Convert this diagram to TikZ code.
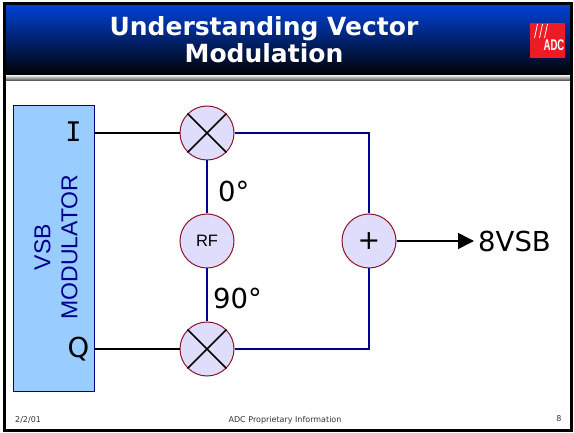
\documentclass[tikz,border=0pt]{standalone}
\usepackage{fontspec}
\setmainfont{DejaVu Sans}
\newfontfamily\arialfont{Liberation Sans}
\newfontfamily\monofont{DejaVu Sans Mono}
\usetikzlibrary{arrows.meta}
\definecolor{headblue}{RGB}{0,66,214}
\definecolor{boxblue}{RGB}{153,204,255}
\definecolor{wireblue}{RGB}{0,0,140}
\definecolor{mixfill}{RGB}{222,222,252}
\definecolor{mixring}{RGB}{140,20,40}
\definecolor{logored}{RGB}{237,28,36}
\tikzset{
	mixer/.style={circle,draw=mixring,fill=mixfill,line width=1pt,minimum size=54pt,inner sep=0pt},
	wire/.style={black,line width=1.5pt},
	bluewire/.style={wireblue,line width=1.5pt},
	crossline/.style={black,line width=1.5pt},
	biglabel/.style={font=\fontsize{27.5}{28}\selectfont,inner sep=0pt},
	footer/.style={font=\fontsize{8}{9}\selectfont,text=black!80,inner sep=0pt},
}
\begin{document}
\begin{tikzpicture}[x=1pt,y=-1pt]
	\useasboundingbox (0,0) rectangle (574,433);
	\fill[white] (0,0) rectangle (574,433);
	% header
	\shade[top color=headblue,bottom color=black,shading angle=0] (4,5) rectangle (571,76);
	\shade[top color=black!15,bottom color=black!75] (4,76) rectangle (571,81);
	\draw[black,line width=3pt] (4,4) rectangle (571.5,430);
	\node[font=\fontsize{25}{27}\selectfont\bfseries,text=white,align=center,inner sep=0pt] (title) at (264,40) {Understanding Vector\\Modulation};
	% logo
	\node[fill=logored,minimum size=35pt,inner sep=0pt] (logo) at (547.5,40.5) {};
	\node[font=\arialfont\bfseries\fontsize{15.5}{16}\selectfont,text=white,inner sep=0pt,xscale=0.62] (adc) at (554,45) {ADC};
	\foreach \i in {0,1,2}
		\draw[white,line width=0.8pt] (534.5+\i*5,38) -- (537.5+\i*5,24);
	% modulator block
	\node[draw=wireblue,fill=boxblue,line width=1pt,minimum width=81pt,minimum height=286pt,inner sep=0pt] (vsb) at (53.5,249) {};
	\node[rotate=90,align=center,text=wireblue,font=\arialfont\fontsize{23}{27}\selectfont,inner sep=0pt] (vsbtext) at (56,247) {VSB\\MODULATOR};
	\node[font=\monofont\fontsize{27}{27}\selectfont,inner sep=0pt] (ilabel) at (73.5,132) {I};
	\node[biglabel] (qlabel) at (78.5,349) {Q};
	\coordinate (vsbi) at (94,133);
	\coordinate (vsbq) at (94,349);
	% circles
	\node[mixer] (mixi) at (207,133) {};
	\node[mixer,font=\arialfont\fontsize{16.5}{17}\selectfont] (rf) at (207,241) {RF};
	\node[mixer] (mixq) at (207,349) {};
	\node[mixer] (sum) at (369,241) {};
	\node[font=\fontsize{27}{27}\selectfont,inner sep=0pt] (plus) at (369,241) {+};
	\foreach \m in {mixi,mixq} {
		\draw[crossline] (\m.45) -- (\m.225);
		\draw[crossline] (\m.135) -- (\m.315);
	}
	% text
	\node[biglabel,anchor=west] (phase0) at (218,191) {0°};
	\node[biglabel,anchor=west] (phase90) at (213,298) {90°};
	\node[biglabel,anchor=west] (out) at (478,241) {8VSB};
	% wires
	\draw[wire] (vsbi) -- (mixi);
	\draw[wire] (vsbq) -- (mixq);
	\draw[bluewire] (mixi) -- (rf);
	\draw[bluewire] (rf) -- (mixq);
	\draw[bluewire] (mixi) -| (sum);
	\draw[bluewire] (mixq) -| (sum);
	\draw[wire,shorten >=4pt,-{Triangle[length=16pt,width=16pt]}] (sum) -- (out);
	% footer
	\node[footer,anchor=west] (date) at (15,420) {2/2/01};
	\node[footer] (info) at (285,420) {ADC Proprietary Information};
	\node[footer] (page) at (559,419) {8};
\end{tikzpicture}
\end{document}
